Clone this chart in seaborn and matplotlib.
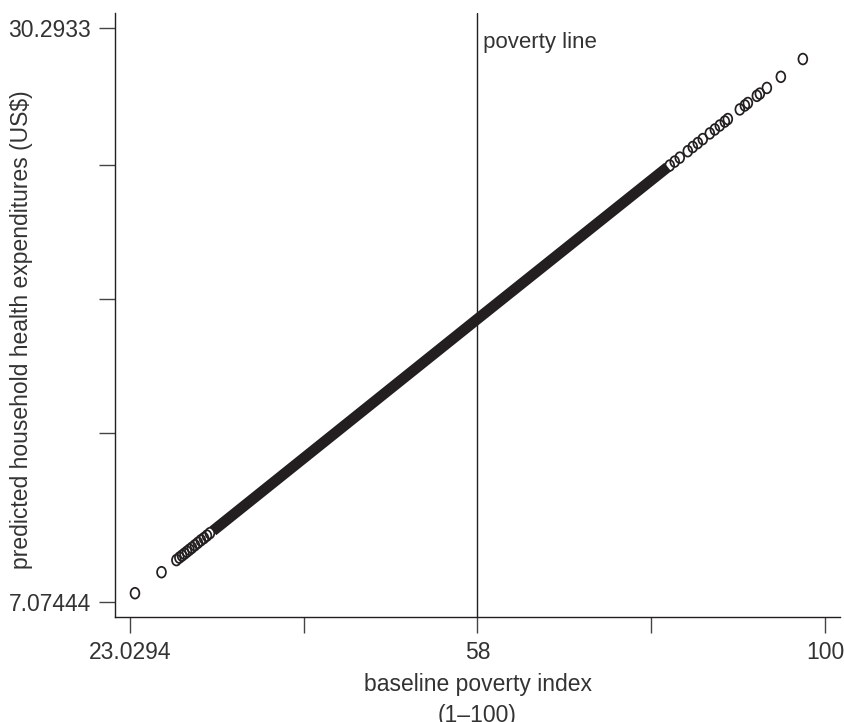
import numpy as np
import matplotlib
matplotlib.use("Agg")
import matplotlib.pyplot as plt
from matplotlib.path import Path
from matplotlib.transforms import Affine2D
import seaborn as sns

# sparse predicted values at the low end of the index
low_x = [23.53, 26.20, 27.70, 28.00, 28.26, 28.51, 28.76, 29.01, 29.26,
         29.56, 29.86, 30.16, 30.47, 30.77, 31.07]
low_y = [7.43, 8.28, 8.77, 8.87, 8.95, 9.03, 9.11, 9.19, 9.27,
         9.37, 9.47, 9.57, 9.66, 9.76, 9.86]

# dense middle of the distribution (solid band)
band_x = [31.37, 58.0, 81.00]
band_y = [9.95, 18.53, 24.68]

# sparse predicted values at the high end
high_x = [81.24, 81.84, 82.45, 83.42, 84.02, 84.63, 85.23, 86.08, 86.69,
          87.29, 87.90, 88.26, 89.71, 90.32, 90.68, 91.77, 92.13, 92.98,
          94.67, 97.33]
high_y = [24.74, 24.90, 25.06, 25.32, 25.49, 25.65, 25.81, 26.04, 26.20,
          26.36, 26.52, 26.62, 27.01, 27.17, 27.27, 27.56, 27.65, 27.88,
          28.33, 29.05]

x_ticks = [23.0294, 40.51, 58, 78.94, 100]
x_labels = ["23.0294", "", "58", "", "100"]
y_ticks = [7.07444, 13.90, 19.33, 24.75, 30.2933]
y_labels = ["7.07444", "", "", "", "30.2933"]
poverty_line = 58

sns.set_style("ticks")
plt.rcParams["font.family"] = ["Liberation Sans", "DejaVu Sans"]
plt.rcParams["font.size"] = 16.5

# x axis labels sit evenly spaced, so use a piecewise scale through them
nodes = [0, 23.0294, 58, 100, 200]
pos = [-23.0294 / 34.9706, 0, 1, 2, 2 + 100 / 42]
fwd = lambda v: np.interp(v, nodes, pos)
inv = lambda v: np.interp(v, pos, nodes)

fig = plt.figure(figsize=(8.44, 7.22), dpi=100)
ax = fig.add_axes([115 / 844, 1 - 617 / 722, 725 / 844, 604 / 722])
ax.set_xscale("function", functions=(fwd, inv))

ink = "#231f20"
txt = "#333333"
sns.lineplot(x=band_x, y=band_y, ax=ax, color=ink, linewidth=7.8,
             solid_capstyle="butt", sort=True)

oval = Path.unit_circle().transformed(Affine2D().scale(0.82, 1.0))
pts_x = low_x + high_x
pts_y = low_y + high_y
sns.scatterplot(x=pts_x, y=pts_y, ax=ax, marker=oval, s=60,
                facecolor="none", edgecolor=ink, linewidth=1.25)

ax.axvline(poverty_line, color=ink, linewidth=1.0)
ax.text(poverty_line, 29.49, " poverty line", ha="left", va="baseline",
        color=txt, fontsize=16)

ax.set_xlim(21.52, 101.82)
ax.set_ylim(6.467, 30.913)
ax.set_xticks(x_ticks)
ax.set_xticklabels(x_labels)
ax.set_yticks(y_ticks)
ax.set_yticklabels(y_labels)
ax.xaxis.set_minor_locator(matplotlib.ticker.NullLocator())
ax.tick_params(length=11.5, width=1.0, color="#444444", pad=6,
               labelcolor=txt)

ax.set_xlabel("baseline poverty index\n(1–100)", color=txt,
              linespacing=1.45, labelpad=6)
ax.set_ylabel("predicted household health expenditures (US$)", color=txt)
ax.yaxis.set_label_coords(-0.113, 0.475)

sns.despine(ax=ax)
for s in ["left", "bottom"]:
    ax.spines[s].set_color(ink)
    ax.spines[s].set_linewidth(1.0)

fig.savefig("out.png", dpi=100)
